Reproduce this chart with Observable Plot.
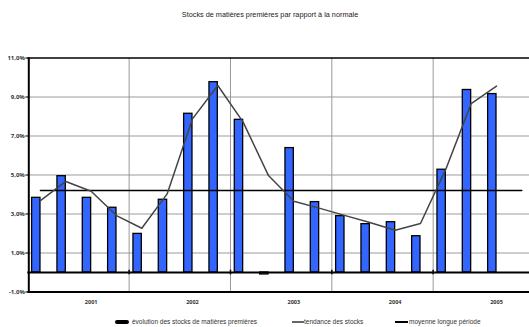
<!DOCTYPE html>
<html>
<head>
<meta charset="utf-8">
<script src="https://cdn.jsdelivr.net/npm/d3@7"></script>
<script src="https://cdn.jsdelivr.net/npm/@observablehq/plot@0.6"></script>
<style>
  html, body { margin: 0; padding: 0; background: #fff; }
  body { position: relative; width: 529px; height: 327px; overflow: hidden; font-family: "Liberation Sans", Arial, sans-serif; }
  #title { position: absolute; left: 0; top: 10px; width: 540px; text-align: center; font-size: 7.3px; line-height: 9px; color: #222; }
  #chart { position: absolute; left: 0; top: 30px; }
  .legend { position: absolute; top: 317px; height: 9px; font-size: 6.5px; line-height: 9px; color: #333; white-space: nowrap; }
  .sw { position: absolute; }
</style>
</head>
<body>
<div id="title">Stocks de matières premières par rapport à la normale</div>
<div id="chart"></div>
<div class="legend" style="left:115px"><span class="sw" style="left:0;top:2.5px;width:14px;height:4px;background:#000;border-radius:2px"></span><span style="position:absolute;left:17px">évolution des stocks de matières premières</span></div>
<div class="legend" style="left:292px"><span class="sw" style="left:0;top:3.5px;width:12px;height:2px;background:#666"></span><span style="position:absolute;left:12px">tendance des stocks</span></div>
<div class="legend" style="left:395px"><span class="sw" style="left:0;top:3.5px;width:13px;height:2px;background:#000"></span><span style="position:absolute;left:14px">moyenne longue période</span></div>
<script>
// Years and quarters on the category axis (the last quarter of 2005 is still empty)
const years = ["2001", "2002", "2003", "2004", "2005"];
const quartersPerYear = 4;

// Raw-material stocks relative to normal, in %
const stocks = [3.83, 4.94, 3.83, 3.32, 1.98, 3.73, 8.14, 9.76, 7.83, -0.1,
                6.38, 3.61, 2.89, 2.48, 2.58, 1.86, 5.27, 9.36, 9.15];

// Stock trend, in %
const trend = [3.69, 4.67, 4.17, 2.92, 2.27, 4.03, 7.88, 9.59, 7.71, 4.97,
               3.65, 3.30, 2.93, 2.56, 2.17, 2.51, 5.30, 8.66, 9.56];

// Long-period average, in %
const average = 4.2;

// Y axis tick values
const yTicks = [-1, 1, 3, 5, 7, 9, 11];

const quarters = years.flatMap((y, yi) =>
  d3.range(quartersPerYear).map(q => ({year: y, q: q + 1, i: yi * quartersPerYear + q})));

const stockData = stocks.map((v, i) => ({i, v}));
const trendData = trend.map((v, i) => ({i, v}));
const averageData = quarters.map(d => ({i: d.i, v: average}));
// Year boundaries sit between the last quarter of one year and the first of the next
const boundaries = years.slice(1).map((y, k) => (k + 1) * quartersPerYear - 0.5);
// Year labels sit under the third quarter of each year
const yearLabels = years.map((y, k) => ({year: y, i: k * quartersPerYear + 2}));

const barWidth = 0.33; // share of a category step; bars sit just left of the category centre

const fmt = d => d.toFixed(1).replace(".", ",") + "%";

const chart = Plot.plot({
  width: 529,
  height: 280,
  marginLeft: 27.3,
  marginRight: -5,
  marginTop: 27.5,
  marginBottom: 18.5,
  x: {domain: [-0.5, quarters.length - 0.5], range: [27.3, 534], axis: null},
  y: {domain: [-1, 11], range: [261.5, 27.5], axis: null},
  style: {background: "transparent", overflow: "visible", color: "#000"},
  marks: [
    // horizontal grid
    Plot.ruleY([1, 3, 5, 7, 9], {stroke: "#bdbdbd", strokeWidth: 1.5}),
    // year separators
    Plot.ruleX(boundaries, {y1: -1, y2: 11, stroke: "#9a9a9a", strokeWidth: 1}),
    // frame top and bottom
    Plot.ruleY([11], {stroke: "#000", strokeWidth: 1.5}),
    Plot.ruleY([-1], {stroke: "#000", strokeWidth: 2}),
    // stocks bars
    Plot.rectY(stockData, {
      x1: d => d.i - barWidth, x2: d => d.i, y1: 0, y2: "v",
      fill: "#3366ff", stroke: "#000", strokeWidth: 1.3
    }),
    // zero line with ticks at year boundaries
    Plot.ruleY([0], {stroke: "#000", strokeWidth: 2}),
    Plot.ruleX(boundaries, {y1: -0.12, y2: 0.12, stroke: "#000", strokeWidth: 1.5}),
    // long-period average
    Plot.lineY(averageData, {x: "i", y: "v", stroke: "#000", strokeWidth: 1.5}),
    // trend
    Plot.lineY(trendData, {x: "i", y: "v", stroke: "#444", strokeWidth: 1.5}),
    // left axis
    Plot.ruleX([-0.5], {y1: -1, y2: 11, dx: 1, stroke: "#000", strokeWidth: 2}),
    Plot.axisY(yTicks, {
      anchor: "left", label: null, tickSize: 3, tickPadding: 1, tickFormat: fmt,
      fontSize: 6, fontWeight: "bold", fill: "#333", dx: 1
    }),
    // year labels
    Plot.text(yearLabels, {
      x: "i", y: -1, dy: 10.5, text: "year",
      fontSize: 5.5, fontWeight: "bold", fill: "#333"
    })
  ]
});
document.getElementById("chart").appendChild(chart);
</script>
</body>
</html>
